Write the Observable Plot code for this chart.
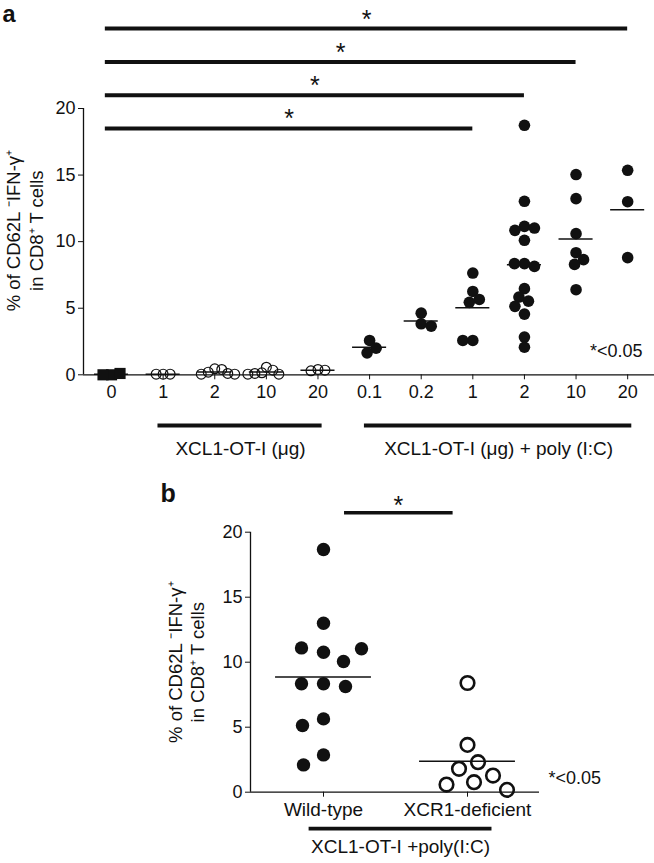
<!DOCTYPE html>
<html>
<head>
<meta charset="utf-8">
<script src="https://cdn.jsdelivr.net/npm/d3@7"></script>
<script src="https://cdn.jsdelivr.net/npm/@observablehq/plot@0.6"></script>
<style>
  html, body { margin: 0; padding: 0; background: #fff; }
  #chart { width: 654px; }
  #chart svg { display: block; }
</style>
</head>
<body>
<div id="chart"></div>
<script>
// ---------- Panel a data ----------
const doseLabelsA = ["0", "1", "2", "10", "20", "0.1", "0.2", "1", "2", "10", "20"];
const treatmentA = ["none", "antigen", "antigen", "antigen", "antigen",
  "antigen+polyIC", "antigen+polyIC", "antigen+polyIC", "antigen+polyIC", "antigen+polyIC", "antigen+polyIC"];
const valuesA = [
  [0, 0.1, 0],
  [0.05, 0.05, 0.05],
  [0.45, 0.4, 0.2, 0.1, 0.05, 0.05],
  [0.57, 0.35, 0.15, 0.1, 0.05, 0.05],
  [0.4, 0.35, 0.3],
  [2.58, 2.0, 1.65],
  [4.63, 3.83, 3.65],
  [7.64, 6.26, 5.66, 5.44, 2.58, 2.58],
  [18.74, 13.03, 11.15, 11.02, 10.85, 10.1, 8.35, 8.35, 8.14, 6.47, 5.84, 5.53, 5.14, 4.56, 2.83, 2.07],
  [15.04, 13.23, 10.6, 9.17, 8.65, 8.29, 6.39],
  [15.36, 13.0, 8.8]
];
const sigFromA = [0, 0, 0, 0];
const sigToA = [7, 8, 9, 10];
const bracketLabelsA = ["XCL1-OT-I (μg)", "XCL1-OT-I (μg) + poly (I:C)"];
const bracketFromA = [1, 5];
const bracketToA = [4, 10];
const yTicks = [0, 5, 10, 15, 20];
const pNote = "*<0.05";

// ---------- Panel b data ----------
const groupsB = ["Wild-type", "XCR1-deficient"];
const valuesB = [
  [18.67, 13.0, 10.77, 10.05, 11.1, 11.03, 8.34, 8.34, 8.13, 5.64, 5.13, 2.87, 2.1],
  [8.4, 3.64, 2.31, 1.8, 1.28, 0.77, 0.59, 0.18]
];
const bracketLabelB = "XCL1-OT-I +poly(I:C)";
const yLabelLine1 = "% of CD62L \u207BIFN-\u03B3\u207A";
const yLabelLine2 = "in CD8\u207A T cells";

// ---------- helpers ----------
function swarm(vals, ky, minDist) {
  const placed = [], offs = [];
  for (const v of vals) {
    const y = v * ky;
    const ok = dx => placed.every(p => (dx - p.x) ** 2 + (y - p.y) ** 2 >= minDist * minDist - 1e-6);
    const sum = placed.reduce((s, p) => s + p.x, 0);
    let chosen = 0;
    for (let d = 0; d < 400; d += 0.5) {
      const a = sum > 0 ? -d : d, b = -a;
      if (ok(a)) { chosen = a; break; }
      if (ok(b)) { chosen = b; break; }
    }
    placed.push({x: chosen, y});
    offs.push(chosen);
  }
  return offs;
}
const font = "'Liberation Sans', Arial, Helvetica, sans-serif";

// ---------- Panel a ----------
{
  const W = 654, H = 470, mL = 83, mR = 0, mT = 108, y0 = 374.3;
  const xDom = [-0.543, 10.52];
  const kx = (W - mL - mR) / (xDom[1] - xDom[0]);
  const ky = (y0 - mT) / 20;
  const pts = [];
  valuesA.forEach((vals, gi) => {
    const t = treatmentA[gi];
    const md = t === "none" ? 8.5 : t === "antigen" ? 7 : 10;
    const offs = swarm(vals, ky, md);
    vals.forEach((v, j) => pts.push({gi, t, v, x: gi + offs[j] / kx}));
  });
  const means = valuesA.map((vals, gi) => ({gi, m: d3.mean(vals)}));
  const sig = sigFromA.map((f, i) => ({f, t: sigToA[i], y: 18.5 + 2.5 * i}));
  const brackets = bracketLabelsA.map((l, i) => ({l, f: bracketFromA[i], t: bracketToA[i]}));

  const plot = Plot.plot({
    width: W, height: H, marginLeft: mL, marginRight: mR, marginTop: mT, marginBottom: H - y0,
    style: {fontFamily: font, color: "#111", background: "#fff", overflow: "visible"},
    x: {type: "linear", domain: xDom, axis: null},
    y: {domain: [0, 20], axis: null},
    marks: [
      Plot.axisY({ticks: yTicks, tickSize: 5, tickPadding: 3, fontSize: 18, label: null, tickFormat: d => d}),
      Plot.axisX({ticks: d3.range(doseLabelsA.length), tickSize: 5, tickPadding: 5, fontSize: 18, label: null, tickFormat: i => doseLabelsA[i]}),
      Plot.ruleY([0], {stroke: "#111", strokeWidth: 1.3}),
      Plot.ruleX([xDom[0]], {y1: 0, y2: 20, stroke: "#111", strokeWidth: 1.3}),
      Plot.ruleY(means, {x1: d => d.gi - 0.33, x2: d => d.gi + 0.33, y: "m", stroke: "#111", strokeWidth: 1.5}),
      Plot.dot(pts.filter(d => d.t === "none"), {x: "x", y: "v", symbol: "square", r: 6.3, fill: "#111", stroke: "none"}),
      Plot.dot(pts.filter(d => d.t === "antigen"), {x: "x", y: "v", r: 4.9, fill: "none", stroke: "#111", strokeWidth: 1.2}),
      Plot.dot(pts.filter(d => d.t === "antigen+polyIC"), {x: "x", y: "v", r: 5.8, fill: "#111", stroke: "none"}),
      Plot.ruleY(sig, {x1: d => d.f - 0.12, x2: "t", y: "y", stroke: "#111", strokeWidth: 4}),
      Plot.text(sig, {x: d => (d.f - 0.12 + d.t) / 2, y: "y", text: () => "*", fontSize: 25, dy: -9, lineAnchor: "middle", fill: "#111"}),
      Plot.ruleY(brackets, {x1: d => d.f - 0.1, x2: d => d.t + 0.08, y: -3.8, stroke: "#111", strokeWidth: 4}),
      Plot.text(brackets, {x: d => (d.f + d.t) / 2, y: -5.6, text: "l", fontSize: 19, lineAnchor: "middle", fill: "#111"}),
      Plot.text([pNote], {x: 10.52, y: 1.8, textAnchor: "end", dx: -12, fontSize: 18, lineAnchor: "middle", fill: "#111"}),
      Plot.text(["a"], {frameAnchor: "top-left", dx: -mL + 2, dy: -mT + 21, text: d => d, fontSize: 23.5, fontWeight: "bold", textAnchor: "start", lineAnchor: "bottom", fill: "#111"}),
      Plot.text([yLabelLine1], {frameAnchor: "left", dx: -69, dy: -11, rotate: -90, fontSize: 18.5, textAnchor: "middle", lineAnchor: "middle", fill: "#111"}),
      Plot.text([yLabelLine2], {frameAnchor: "left", dx: -46, dy: -11, rotate: -90, fontSize: 18.5, textAnchor: "middle", lineAnchor: "middle", fill: "#111"})
    ]
  });
  document.getElementById("chart").appendChild(plot);
}

// ---------- Panel b ----------
{
  const W = 654, H = 393, mL = 250, mR = 115, mT = 61.7, y0 = 321.7;
  const xDom = [-0.507, 1.5];
  const kx = (W - mL - mR) / (xDom[1] - xDom[0]);
  const ky = (y0 - mT) / 20;
  const pts = [];
  valuesB.forEach((vals, gi) => {
    const offs = swarm(vals, ky, gi === 0 ? 22 : 20);
    vals.forEach((v, j) => pts.push({gi, v, x: gi + offs[j] / kx}));
  });
  const means = valuesB.map((vals, gi) => ({gi, m: d3.mean(vals)}));

  const plot = Plot.plot({
    width: W, height: H, marginLeft: mL, marginRight: mR, marginTop: mT, marginBottom: H - y0,
    style: {fontFamily: font, color: "#111", background: "#fff", overflow: "visible"},
    x: {type: "linear", domain: xDom, axis: null},
    y: {domain: [0, 20], axis: null},
    marks: [
      Plot.axisY({ticks: yTicks, tickSize: 5, tickPadding: 3, fontSize: 18, label: null, tickFormat: d => d}),
      Plot.axisX({ticks: [0, 1], tickSize: 5, tickPadding: 5, fontSize: 19, label: null, tickFormat: i => groupsB[i]}),
      Plot.ruleY([0], {stroke: "#111", strokeWidth: 1.3}),
      Plot.ruleX([xDom[0]], {y1: 0, y2: 20, stroke: "#111", strokeWidth: 1.3}),
      Plot.ruleY(means, {x1: d => d.gi - 0.333, x2: d => d.gi + 0.333, y: "m", stroke: "#111", strokeWidth: 1.5}),
      Plot.dot(pts.filter(d => d.gi === 0), {x: "x", y: "v", r: 6.7, fill: "#111", stroke: "none"}),
      Plot.dot(pts.filter(d => d.gi === 1), {x: "x", y: "v", r: 6.8, fill: "none", stroke: "#111", strokeWidth: 2.6}),
      Plot.ruleY([21.5], {x1: 0.146, x2: 0.9, stroke: "#111", strokeWidth: 3.6}),
      Plot.text(["*"], {x: 0.52, y: 21.5, fontSize: 25, dy: -7, lineAnchor: "middle", fill: "#111"}),
      Plot.ruleY([-2.8], {x1: -0.1, x2: 1.17, stroke: "#111", strokeWidth: 3.6}),
      Plot.text([bracketLabelB], {x: 0.535, y: -4.2, fontSize: 19, lineAnchor: "middle", fill: "#111"}),
      Plot.text([pNote], {x: 1.5, y: 1.1, textAnchor: "start", dx: 9, fontSize: 18, lineAnchor: "middle", fill: "#111"}),
      Plot.text(["b"], {frameAnchor: "top-left", dx: 160 - mL, dy: 31 - mT, text: d => d, fontSize: 25, fontWeight: "bold", textAnchor: "start", lineAnchor: "bottom", fill: "#111"}),
      Plot.text([yLabelLine1], {frameAnchor: "left", dx: -74, rotate: -90, fontSize: 18.5, textAnchor: "middle", lineAnchor: "middle", fill: "#111"}),
      Plot.text([yLabelLine2], {frameAnchor: "left", dx: -52, rotate: -90, fontSize: 18.5, textAnchor: "middle", lineAnchor: "middle", fill: "#111"})
    ]
  });
  document.getElementById("chart").appendChild(plot);
}
</script>
</body>
</html>
